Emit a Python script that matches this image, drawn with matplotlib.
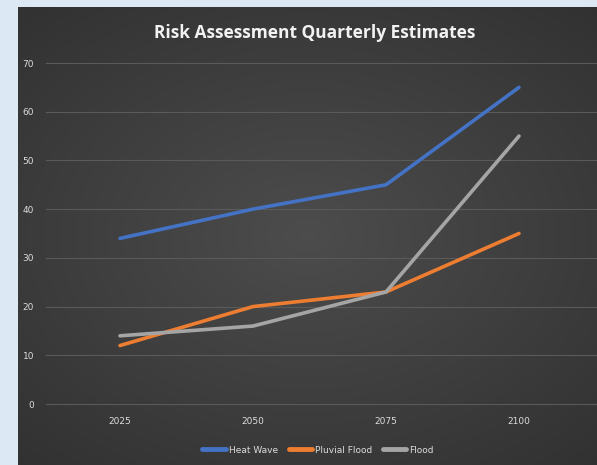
import matplotlib
matplotlib.use("Agg")
import matplotlib.pyplot as plt
import numpy as np

years = ["2025", "2050", "2075", "2100"]
heat_wave = [34, 40, 45, 65]
pluvial_flood = [12, 20, 23, 35]
flood = [14, 16, 23, 55]
series_names = ["Heat Wave", "Pluvial Flood", "Flood"]
colors = ["#4472c4", "#ed7d31", "#a5a5a5"]

W, H = 597, 465
fig = plt.figure(figsize=(W / 100, H / 100), dpi=100)
fig.patch.set_facecolor("#dce9f5")

# dark panel with soft radial gradient
bg = fig.add_axes([18 / W, 0, 1 - 18 / W, 1 - 7 / H])
yy, xx = np.mgrid[-1:1:200j, -1:1:260j]
r = np.sqrt((xx * 0.9) ** 2 + (yy * 1.0) ** 2)
shade = 0.30 - 0.11 * np.clip(r, 0, 1.4) / 1.4
bg.imshow(np.dstack([shade, shade, shade]), aspect="auto", extent=[0, 1, 0, 1])
bg.set_axis_off()

ax = fig.add_axes([53.5 / W, 1 - 404 / H, (585.5 - 53.5) / W, (404 - 63) / H])
ax.patch.set_alpha(0)
x = np.arange(len(years))

# gridlines, a bit wider than the plot area
ticks = list(range(0, 71, 10))
for t in ticks:
    ax.axhline(t, xmin=-0.015, xmax=1.03, color="#5a5a5a", lw=0.8,
               clip_on=False, zorder=0)

for vals, name, c in zip([heat_wave, pluvial_flood, flood], series_names, colors):
    ax.plot(x, vals, color=c, lw=2.6, label=name, solid_capstyle="round")

ax.set_xlim(-0.5, len(years) - 0.5)
ax.set_ylim(0, 70)
ax.set_yticks(ticks)
ax.set_xticks(x)
ax.set_xticklabels(years)
for s in ax.spines.values():
    s.set_visible(False)
ax.tick_params(length=0, colors="#dcdcdc", labelsize=6.5)
ax.tick_params(axis="x", pad=9)
ax.tick_params(axis="y", pad=14)

fig.text(315 / W, 1 - 33 / H, "Risk Assessment Quarterly Estimates",
         ha="center", va="center", color="#f2f2f2", fontsize=12.5,
         fontweight="bold", family="Open Sans")

leg = ax.legend(loc="center", bbox_to_anchor=(318 / W, 1 - 450 / H),
                bbox_transform=fig.transFigure, ncol=3, frameon=False,
                fontsize=6.5, handlelength=2.6, columnspacing=1.2,
                handletextpad=0.3)
for line in leg.get_lines():
    line.set_linewidth(3.5)
for t in leg.get_texts():
    t.set_color("#dcdcdc")

fig.savefig("out.png", dpi=100, facecolor=fig.get_facecolor())
